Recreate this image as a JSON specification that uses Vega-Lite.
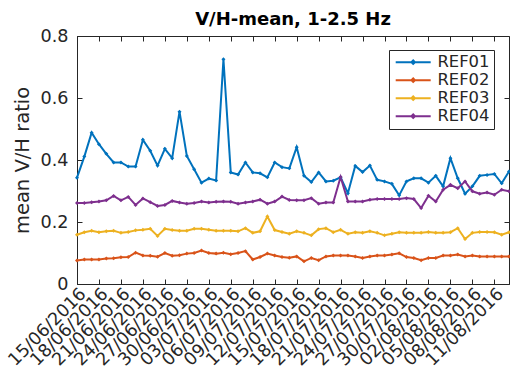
{
  "$schema": "https://vega.github.io/schema/vega-lite/v6.json",
  "autosize": {"type": "none"},
  "width": 432,
  "height": 248,
  "padding": {"left": 77, "top": 36, "right": 1, "bottom": 90},
  "background": "white",
  "title": {"text": "V/H-mean, 1-2.5 Hz", "fontSize": 18, "fontWeight": "bold", "font": "DejaVu Sans", "color": "#000000", "offset": -2, "anchor": "middle"},
  "config": {"view": {"stroke": "#262626", "strokeWidth": 1}, "font": "DejaVu Sans"},
  "data": {"values": [
    {"d": "2016-06-15T00:00", "REF01": 0.343, "REF02": 0.076, "REF03": 0.159, "REF04": 0.261},
    {"d": "2016-06-16T00:00", "REF01": 0.411, "REF02": 0.079, "REF03": 0.167, "REF04": 0.261},
    {"d": "2016-06-17T00:00", "REF01": 0.488, "REF02": 0.079, "REF03": 0.172, "REF04": 0.264},
    {"d": "2016-06-18T00:00", "REF01": 0.451, "REF02": 0.079, "REF03": 0.167, "REF04": 0.266},
    {"d": "2016-06-19T00:00", "REF01": 0.420, "REF02": 0.082, "REF03": 0.170, "REF04": 0.270},
    {"d": "2016-06-20T00:00", "REF01": 0.392, "REF02": 0.083, "REF03": 0.172, "REF04": 0.284},
    {"d": "2016-06-21T00:00", "REF01": 0.392, "REF02": 0.086, "REF03": 0.165, "REF04": 0.270},
    {"d": "2016-06-22T00:00", "REF01": 0.379, "REF02": 0.087, "REF03": 0.168, "REF04": 0.281},
    {"d": "2016-06-23T00:00", "REF01": 0.379, "REF02": 0.101, "REF03": 0.173, "REF04": 0.255},
    {"d": "2016-06-24T00:00", "REF01": 0.465, "REF02": 0.092, "REF03": 0.175, "REF04": 0.276},
    {"d": "2016-06-25T00:00", "REF01": 0.430, "REF02": 0.091, "REF03": 0.178, "REF04": 0.264},
    {"d": "2016-06-26T00:00", "REF01": 0.382, "REF02": 0.088, "REF03": 0.155, "REF04": 0.252},
    {"d": "2016-06-27T00:00", "REF01": 0.436, "REF02": 0.100, "REF03": 0.178, "REF04": 0.255},
    {"d": "2016-06-28T00:00", "REF01": 0.406, "REF02": 0.091, "REF03": 0.174, "REF04": 0.268},
    {"d": "2016-06-29T00:00", "REF01": 0.556, "REF02": 0.093, "REF03": 0.172, "REF04": 0.263},
    {"d": "2016-06-30T00:00", "REF01": 0.413, "REF02": 0.098, "REF03": 0.172, "REF04": 0.259},
    {"d": "2016-07-01T00:00", "REF01": 0.370, "REF02": 0.100, "REF03": 0.178, "REF04": 0.261},
    {"d": "2016-07-02T00:00", "REF01": 0.327, "REF02": 0.108, "REF03": 0.178, "REF04": 0.266},
    {"d": "2016-07-03T00:00", "REF01": 0.340, "REF02": 0.100, "REF03": 0.175, "REF04": 0.263},
    {"d": "2016-07-04T00:00", "REF01": 0.334, "REF02": 0.098, "REF03": 0.172, "REF04": 0.265},
    {"d": "2016-07-05T00:00", "REF01": 0.725, "REF02": 0.101, "REF03": 0.172, "REF04": 0.266},
    {"d": "2016-07-06T00:00", "REF01": 0.360, "REF02": 0.096, "REF03": 0.172, "REF04": 0.265},
    {"d": "2016-07-07T00:00", "REF01": 0.353, "REF02": 0.100, "REF03": 0.170, "REF04": 0.259},
    {"d": "2016-07-08T00:00", "REF01": 0.392, "REF02": 0.106, "REF03": 0.180, "REF04": 0.263},
    {"d": "2016-07-09T00:00", "REF01": 0.360, "REF02": 0.079, "REF03": 0.165, "REF04": 0.266},
    {"d": "2016-07-10T00:00", "REF01": 0.357, "REF02": 0.087, "REF03": 0.170, "REF04": 0.272},
    {"d": "2016-07-11T00:00", "REF01": 0.344, "REF02": 0.098, "REF03": 0.218, "REF04": 0.259},
    {"d": "2016-07-12T00:00", "REF01": 0.392, "REF02": 0.092, "REF03": 0.174, "REF04": 0.266},
    {"d": "2016-07-13T00:00", "REF01": 0.377, "REF02": 0.087, "REF03": 0.168, "REF04": 0.282},
    {"d": "2016-07-14T00:00", "REF01": 0.373, "REF02": 0.085, "REF03": 0.162, "REF04": 0.271},
    {"d": "2016-07-15T00:00", "REF01": 0.441, "REF02": 0.089, "REF03": 0.170, "REF04": 0.270},
    {"d": "2016-07-16T00:00", "REF01": 0.349, "REF02": 0.073, "REF03": 0.165, "REF04": 0.270},
    {"d": "2016-07-17T00:00", "REF01": 0.329, "REF02": 0.084, "REF03": 0.157, "REF04": 0.277},
    {"d": "2016-07-18T00:00", "REF01": 0.360, "REF02": 0.077, "REF03": 0.177, "REF04": 0.259},
    {"d": "2016-07-19T00:00", "REF01": 0.331, "REF02": 0.089, "REF03": 0.180, "REF04": 0.263},
    {"d": "2016-07-20T00:00", "REF01": 0.333, "REF02": 0.092, "REF03": 0.167, "REF04": 0.263},
    {"d": "2016-07-21T00:00", "REF01": 0.344, "REF02": 0.092, "REF03": 0.175, "REF04": 0.345},
    {"d": "2016-07-22T00:00", "REF01": 0.293, "REF02": 0.092, "REF03": 0.162, "REF04": 0.266},
    {"d": "2016-07-23T00:00", "REF01": 0.381, "REF02": 0.089, "REF03": 0.167, "REF04": 0.266},
    {"d": "2016-07-24T00:00", "REF01": 0.361, "REF02": 0.084, "REF03": 0.165, "REF04": 0.266},
    {"d": "2016-07-25T00:00", "REF01": 0.382, "REF02": 0.089, "REF03": 0.170, "REF04": 0.272},
    {"d": "2016-07-26T00:00", "REF01": 0.336, "REF02": 0.092, "REF03": 0.165, "REF04": 0.274},
    {"d": "2016-07-27T00:00", "REF01": 0.331, "REF02": 0.092, "REF03": 0.157, "REF04": 0.274},
    {"d": "2016-07-28T00:00", "REF01": 0.323, "REF02": 0.095, "REF03": 0.162, "REF04": 0.274},
    {"d": "2016-07-29T00:00", "REF01": 0.286, "REF02": 0.099, "REF03": 0.167, "REF04": 0.274},
    {"d": "2016-07-30T00:00", "REF01": 0.331, "REF02": 0.087, "REF03": 0.165, "REF04": 0.277},
    {"d": "2016-07-31T00:00", "REF01": 0.341, "REF02": 0.084, "REF03": 0.165, "REF04": 0.274},
    {"d": "2016-08-01T00:00", "REF01": 0.341, "REF02": 0.077, "REF03": 0.165, "REF04": 0.245},
    {"d": "2016-08-02T00:00", "REF01": 0.327, "REF02": 0.084, "REF03": 0.168, "REF04": 0.285},
    {"d": "2016-08-03T00:00", "REF01": 0.349, "REF02": 0.084, "REF03": 0.165, "REF04": 0.266},
    {"d": "2016-08-04T00:00", "REF01": 0.315, "REF02": 0.092, "REF03": 0.165, "REF04": 0.304},
    {"d": "2016-08-05T00:00", "REF01": 0.406, "REF02": 0.092, "REF03": 0.167, "REF04": 0.320},
    {"d": "2016-08-06T00:00", "REF01": 0.341, "REF02": 0.095, "REF03": 0.180, "REF04": 0.309},
    {"d": "2016-08-07T00:00", "REF01": 0.291, "REF02": 0.089, "REF03": 0.145, "REF04": 0.331},
    {"d": "2016-08-08T00:00", "REF01": 0.315, "REF02": 0.092, "REF03": 0.165, "REF04": 0.299},
    {"d": "2016-08-09T00:00", "REF01": 0.349, "REF02": 0.089, "REF03": 0.168, "REF04": 0.291},
    {"d": "2016-08-10T00:00", "REF01": 0.352, "REF02": 0.089, "REF03": 0.168, "REF04": 0.295},
    {"d": "2016-08-11T00:00", "REF01": 0.355, "REF02": 0.089, "REF03": 0.167, "REF04": 0.288},
    {"d": "2016-08-12T00:00", "REF01": 0.325, "REF02": 0.089, "REF03": 0.159, "REF04": 0.304},
    {"d": "2016-08-13T00:00", "REF01": 0.363, "REF02": 0.089, "REF03": 0.167, "REF04": 0.299}
  ]},
  "transform": [{"fold": ["REF01", "REF02", "REF03", "REF04"], "as": ["station", "ratio"]}],
  "layer": [
    {
      "mark": {"type": "line", "strokeWidth": 2, "point": {"shape": "diamond", "size": 16, "filled": true}},
      "encoding": {
        "x": {"field": "d", "type": "temporal",
          "scale": {"domain": [{"year": 2016, "month": 6, "date": 15}, {"year": 2016, "month": 8, "date": 13}]},
          "axis": {"title": null, "grid": false, "format": "%d/%m/%Y", "labelAngle": -45, "labelAlign": "right", "labelBaseline": "middle",
            "labelFontSize": 17.6, "labelColor": "#262626", "domainColor": "#262626", "tickColor": "#262626", "tickSize": -5, "labelPadding": 12, "labelOffset": 6,
            "labelOverlap": false, "labelFlush": false, "labelBound": false,
            "values": [
              {"year": 2016, "month": 6, "date": 15}, {"year": 2016, "month": 6, "date": 18}, {"year": 2016, "month": 6, "date": 21},
              {"year": 2016, "month": 6, "date": 24}, {"year": 2016, "month": 6, "date": 27}, {"year": 2016, "month": 6, "date": 30},
              {"year": 2016, "month": 7, "date": 3}, {"year": 2016, "month": 7, "date": 6}, {"year": 2016, "month": 7, "date": 9},
              {"year": 2016, "month": 7, "date": 12}, {"year": 2016, "month": 7, "date": 15}, {"year": 2016, "month": 7, "date": 18},
              {"year": 2016, "month": 7, "date": 21}, {"year": 2016, "month": 7, "date": 24}, {"year": 2016, "month": 7, "date": 27},
              {"year": 2016, "month": 7, "date": 30}, {"year": 2016, "month": 8, "date": 2}, {"year": 2016, "month": 8, "date": 5},
              {"year": 2016, "month": 8, "date": 8}, {"year": 2016, "month": 8, "date": 11}
            ]}},
        "y": {"field": "ratio", "type": "quantitative", "scale": {"domain": [0, 0.8], "nice": false},
          "axis": {"title": "mean V/H ratio", "titleFontSize": 19.5, "titleFontWeight": "normal", "titleColor": "#262626", "titlePadding": 8,
            "values": [0, 0.2, 0.4, 0.6, 0.8], "format": "~g", "grid": false, "labelFontSize": 17.6, "labelColor": "#262626",
            "domainColor": "#262626", "tickColor": "#262626", "tickSize": -5, "labelPadding": 14, "labelOverlap": false, "labelFlush": false}},
        "color": {"field": "station", "type": "nominal",
          "scale": {"domain": ["REF01", "REF02", "REF03", "REF04"], "range": ["#0072BD", "#D95319", "#EDB120", "#7E2F8E"]},
          "legend": {"orient": "none", "legendX": 312, "legendY": 14, "title": null,
            "symbolType": "M-3,0L3,0M-0.3,0L0,-0.3L0.3,0L0,0.3Z", "symbolSize": 136, "symbolStrokeWidth": 2, "symbolOffset": 12,
            "labelFontSize": 16.4, "labelColor": "#262626", "fillColor": "white", "strokeColor": "#262626",
            "padding": 4, "rowPadding": 1, "labelOffset": 16}}
      }
    },
    {
      "mark": {"type": "point", "opacity": 0},
      "encoding": {
        "x": {"field": "d", "type": "temporal",
          "axis": {"orient": "top", "labels": false, "title": null, "grid": false, "domain": false, "tickColor": "#262626", "tickSize": -5,
            "minExtent": 0, "maxExtent": 0, "labelPadding": 0,
            "values": [
              {"year": 2016, "month": 6, "date": 15}, {"year": 2016, "month": 6, "date": 18}, {"year": 2016, "month": 6, "date": 21},
              {"year": 2016, "month": 6, "date": 24}, {"year": 2016, "month": 6, "date": 27}, {"year": 2016, "month": 6, "date": 30},
              {"year": 2016, "month": 7, "date": 3}, {"year": 2016, "month": 7, "date": 6}, {"year": 2016, "month": 7, "date": 9},
              {"year": 2016, "month": 7, "date": 12}, {"year": 2016, "month": 7, "date": 15}, {"year": 2016, "month": 7, "date": 18},
              {"year": 2016, "month": 7, "date": 21}, {"year": 2016, "month": 7, "date": 24}, {"year": 2016, "month": 7, "date": 27},
              {"year": 2016, "month": 7, "date": 30}, {"year": 2016, "month": 8, "date": 2}, {"year": 2016, "month": 8, "date": 5},
              {"year": 2016, "month": 8, "date": 8}, {"year": 2016, "month": 8, "date": 11}
            ]}},
        "y": {"field": "ratio", "type": "quantitative",
          "axis": {"orient": "right", "labels": false, "title": null, "grid": false, "domain": false, "tickColor": "#262626", "tickSize": -5,
            "minExtent": 0, "maxExtent": 0, "labelPadding": 0,
            "values": [0, 0.2, 0.4, 0.6, 0.8]}}
      }
    }
  ],
  "resolve": {"axis": {"x": "independent", "y": "independent"}}
}
